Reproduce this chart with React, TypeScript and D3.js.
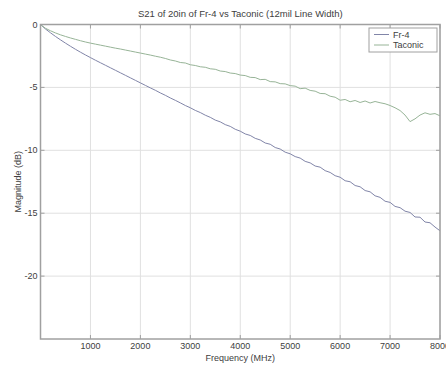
import React, { useRef, useEffect } from "react";
import * as d3 from "d3";

// frequency points (MHz), 100 MHz apart
const freqs: number[] = [
  0, 100, 200, 300, 400, 500, 600, 700, 800, 900,
  1000, 1100, 1200, 1300, 1400, 1500, 1600, 1700, 1800, 1900,
  2000, 2100, 2200, 2300, 2400, 2500, 2600, 2700, 2800, 2900,
  3000, 3100, 3200, 3300, 3400, 3500, 3600, 3700, 3800, 3900,
  4000, 4100, 4200, 4300, 4400, 4500, 4600, 4700, 4800, 4900,
  5000, 5100, 5200, 5300, 5400, 5500, 5600, 5700, 5800, 5900,
  6000, 6100, 6200, 6300, 6400, 6500, 6600, 6700, 6800, 6900,
  7000, 7100, 7200, 7300, 7400, 7500, 7600, 7700, 7800, 7900,
  8000,
];

const fr4: number[] = [
  0, -0.36, -0.66, -0.95, -1.22, -1.48, -1.73, -1.97, -2.2, -2.42,
  -2.63, -2.84, -3.04, -3.24, -3.44, -3.64, -3.84, -4.04, -4.24, -4.44,
  -4.64, -4.84, -5.04, -5.23, -5.44, -5.63, -5.84, -6.03, -6.23, -6.44,
  -6.62, -6.83, -7.0, -7.21, -7.38, -7.6, -7.74, -7.96, -8.1, -8.33,
  -8.48, -8.7, -8.82, -9.05, -9.18, -9.42, -9.52, -9.78, -9.9, -10.15,
  -10.28, -10.5, -10.62, -10.88, -11.0, -11.25, -11.34, -11.62, -11.76, -12.02,
  -12.14, -12.42, -12.5, -12.8, -12.9, -13.2, -13.3, -13.62, -13.74, -14.05,
  -14.14, -14.46, -14.56, -14.84, -14.94, -15.3, -15.32, -15.7, -15.76, -16.1,
  -16.4,
];

const taconic: number[] = [
  0, -0.3, -0.5, -0.67, -0.82, -0.95, -1.07, -1.18, -1.29, -1.39,
  -1.48, -1.56, -1.64, -1.72, -1.8, -1.88, -1.95, -2.03, -2.11, -2.19,
  -2.27, -2.35, -2.43, -2.52, -2.6, -2.7, -2.82, -2.9, -3.02, -3.06,
  -3.2, -3.26, -3.36, -3.4, -3.52, -3.56, -3.7, -3.74, -3.86, -3.9,
  -4.02, -4.06, -4.2, -4.22, -4.38, -4.36, -4.54, -4.56, -4.7, -4.72,
  -4.86, -4.9, -5.1, -5.06, -5.24, -5.3, -5.48, -5.5, -5.7, -5.78,
  -6.02, -5.96, -6.14, -6.04, -6.2, -6.08, -6.24, -6.12, -6.22, -6.3,
  -6.44, -6.62, -6.84, -7.2, -7.72, -7.5, -7.2, -7.02, -7.14, -7.08,
  -7.26,
];

const xTicks = [1000, 2000, 3000, 4000, 5000, 6000, 7000, 8000];
const yTicks = [0, -5, -10, -15, -20];

const seriesNames = ["Fr-4", "Taconic"];
const seriesColors = ["#8185a8", "#97b497"];

export default function App() {
  const svgRef = useRef<SVGSVGElement>(null);

  useEffect(() => {
    if (!svgRef.current) return;
    const svg = d3.select(svgRef.current);
    svg.selectAll("*").remove();

    const W = 446, H = 365;
    const left = 40.5, right = 440, top = 24.5, bottom = 339;
    const font = "'Liberation Sans', Arial, sans-serif";

    const x = d3.scaleLinear().domain([0, 8000]).range([left, right]);
    const y = d3.scaleLinear().domain([-25, 0]).range([bottom, top]);

    svg.append("rect").attr("width", W).attr("height", H).attr("fill", "#fff");

    // grid
    const grid = svg.append("g").attr("stroke", "#e0e0e0").attr("stroke-width", 1);
    xTicks.forEach(t => {
      grid.append("line").attr("x1", x(t)).attr("x2", x(t)).attr("y1", top).attr("y2", bottom);
    });
    yTicks.forEach(t => {
      grid.append("line").attr("x1", left).attr("x2", right).attr("y1", y(t)).attr("y2", y(t));
    });

    // lines
    const line = d3.line<number>()
      .x((_, i) => x(freqs[i]))
      .y(d => y(d));
    [fr4, taconic].forEach((s, k) => {
      svg.append("path")
        .datum(s)
        .attr("fill", "none")
        .attr("stroke", seriesColors[k])
        .attr("stroke-width", 1)
        .attr("d", line);
    });

    // frame + inward ticks
    const axis = svg.append("g").attr("stroke", "#a0a0a0");
    axis.append("rect")
      .attr("x", left).attr("y", top)
      .attr("width", right - left).attr("height", bottom - top)
      .attr("fill", "none").attr("stroke-width", 1.5);
    xTicks.forEach(t => {
      axis.append("line").attr("x1", x(t)).attr("x2", x(t)).attr("y1", bottom).attr("y2", bottom - 4);
      axis.append("line").attr("x1", x(t)).attr("x2", x(t)).attr("y1", top).attr("y2", top + 4);
    });
    yTicks.forEach(t => {
      axis.append("line").attr("x1", left).attr("x2", left + 4).attr("y1", y(t)).attr("y2", y(t));
      axis.append("line").attr("x1", right).attr("x2", right - 4).attr("y1", y(t)).attr("y2", y(t));
    });

    const txt = svg.append("g").attr("font-family", font).attr("fill", "#404040").attr("font-size", 9);
    xTicks.forEach(t => {
      txt.append("text").attr("x", x(t)).attr("y", bottom + 10)
        .attr("text-anchor", "middle").text(t);
    });
    yTicks.forEach(t => {
      txt.append("text").attr("x", left - 3).attr("y", y(t) + 3)
        .attr("text-anchor", "end").text(t === 0 ? "0" : `-${Math.abs(t)}`);
    });
    txt.append("text").attr("x", (left + right) / 2).attr("y", 361)
      .attr("text-anchor", "middle").text("Frequency (MHz)");
    txt.append("text")
      .attr("transform", `translate(21,${(top + bottom) / 2}) rotate(-90)`)
      .attr("text-anchor", "middle").text("Magnitude (dB)");
    txt.append("text").attr("x", (left + right) / 2).attr("y", 17)
      .attr("text-anchor", "middle").attr("font-size", 9.5)
      .text("S21 of 20in of Fr-4 vs Taconic (12mil Line Width)");

    // legend
    const lg = svg.append("g");
    lg.append("rect").attr("x", 369).attr("y", 28).attr("width", 68).attr("height", 24)
      .attr("fill", "#fff").attr("stroke", "#a0a0a0").attr("stroke-width", 1);
    seriesNames.forEach((n, k) => {
      const yy = 34.5 + k * 10.5;
      lg.append("line").attr("x1", 374).attr("x2", 389).attr("y1", yy).attr("y2", yy)
        .attr("stroke", seriesColors[k]).attr("stroke-width", 1);
      lg.append("text").attr("x", 393).attr("y", yy + 3)
        .attr("font-family", font).attr("font-size", 9).attr("fill", "#404040").text(n);
    });
  }, []);

  return (
    <svg ref={svgRef} width={446} height={365}
      style={{ position: "absolute", left: 0, top: 0 }} />
  );
}
